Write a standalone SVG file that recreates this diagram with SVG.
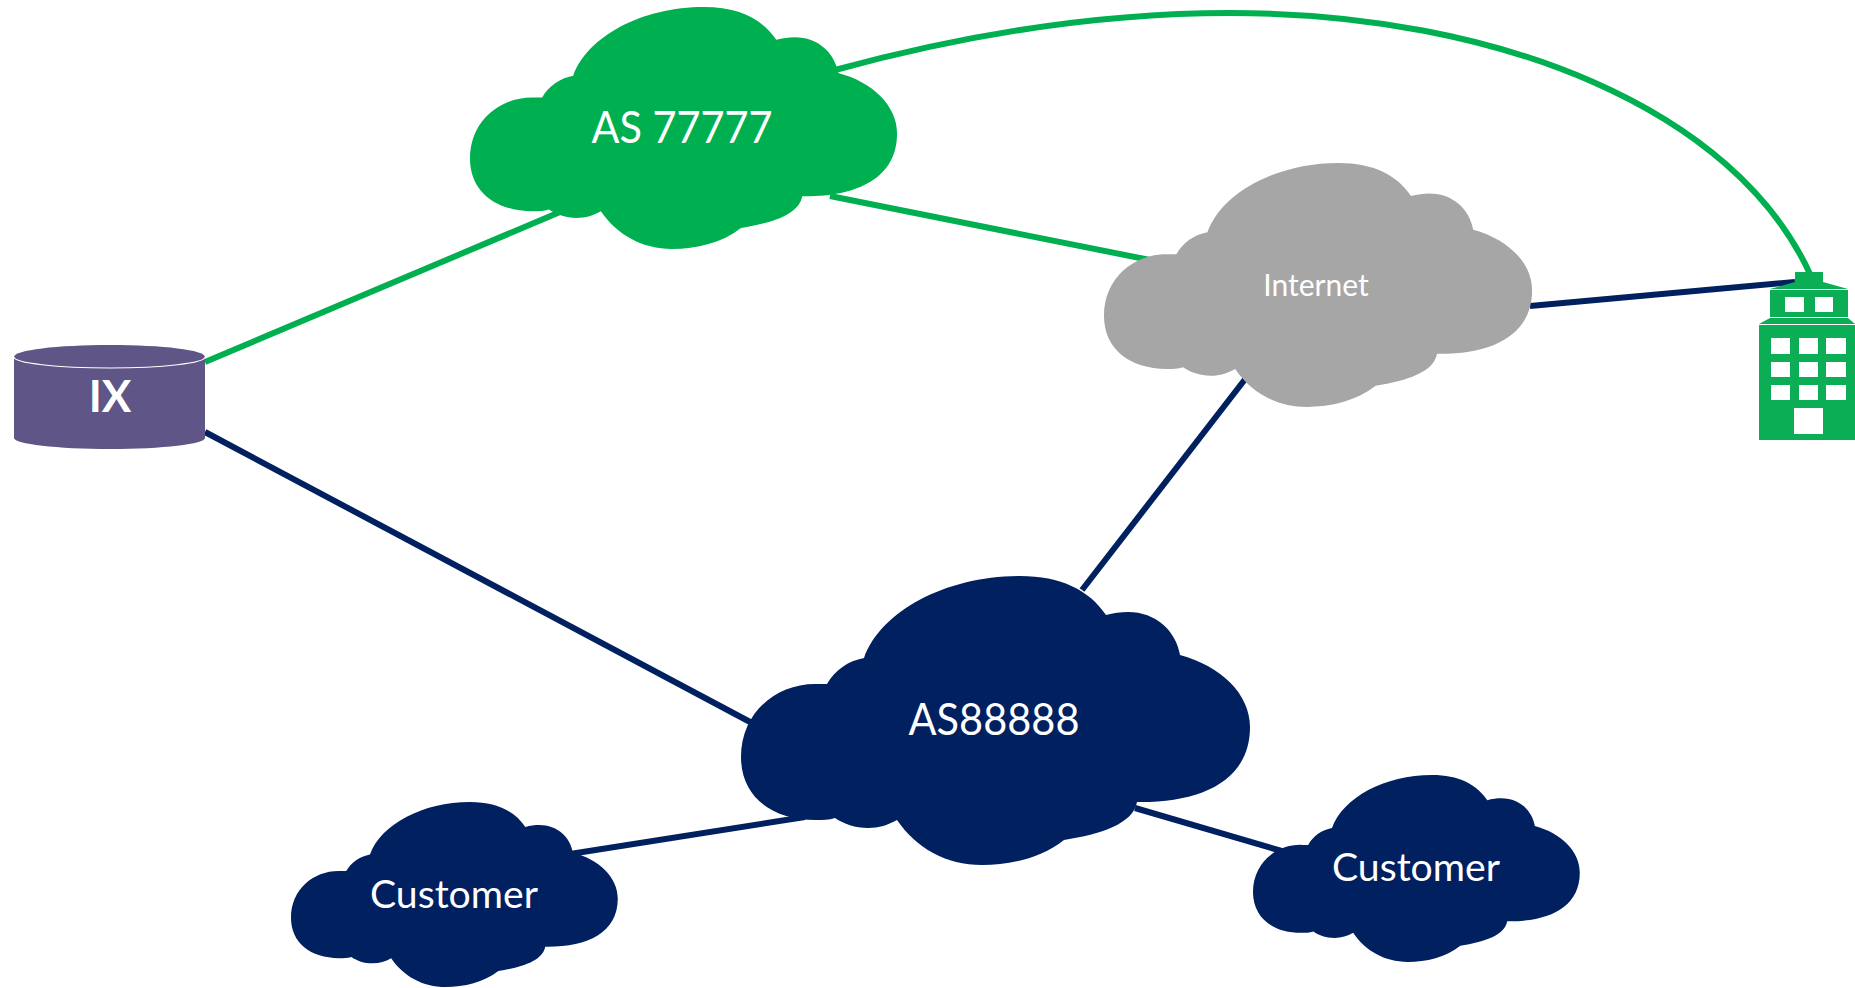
<svg xmlns="http://www.w3.org/2000/svg" width="1855" height="988" viewBox="0 0 1855 988">
<style>
.g{stroke:#00B050}.n{stroke:#002060}
#connectors path{fill:none;stroke-width:6}
text{font-family:Lato,"Liberation Sans",sans-serif;fill:#fff;text-anchor:middle}
.bw{fill:#fff}
.bg{fill:#0BAD55}
</style>
<defs>
<path id="cloud" d="M86,108C94,94 107,85 123,82C140,35 205,0 279,0C320,0 348,14 365,39C372,37 380,36 387,36C415,36 435,55 439,79C480,90 509,118 509,151C509,205 460,227 396,226C392,248 360,258 323,264C300,282 270,289 241,289C205,289 175,272 156,244C147,249 138,252 127,252C114,252 103,248 94,242C88,244 82,244 75,244C30,244 0,220 0,181C0,136 36,107 76,108C80,108 82,108 86,108Z"/>
</defs>
<rect width="1855" height="988" fill="#fff"/>
<g id="connectors">
<path class="g" d="M205,362L560,212"/>
<path class="n" d="M205,432L752,723"/>
<path class="g" d="M830,196L1150,260"/>
<path class="n" d="M1530,306L1795,282"/>
<path class="n" d="M1246,378L1082,590"/>
<path class="n" d="M570,854L805,817"/>
<path class="n" d="M1135,808L1285,852"/>
<path class="g" d="M835,70C1000,25 1130,13 1230,13C1500,13 1735,110 1810,274"/>
</g>
<g id="as77777">
<use href="#cloud" transform="translate(470,7) scale(.839,.837)" fill="#00B050"/>
<text x="682" y="143" font-size="44" textLength="181" lengthAdjust="spacingAndGlyphs">AS 77777</text>
</g>
<g id="internet">
<use href="#cloud" transform="translate(1104,163) scale(.841,.844)" fill="#A6A6A6"/>
<text x="1316" y="296" font-size="30">Internet</text>
</g>
<g id="as88888">
<use href="#cloud" transform="translate(741,576)" fill="#002060"/>
<text x="994" y="735" font-size="44" textLength="171" lengthAdjust="spacingAndGlyphs">AS88888</text>
</g>
<g id="customer-left">
<use href="#cloud" transform="translate(291,802) scale(.642,.64)" fill="#002060"/>
<text x="454" y="908" font-size="38" textLength="168" lengthAdjust="spacingAndGlyphs">Customer</text>
</g>
<g id="customer-right">
<use href="#cloud" transform="translate(1253,775) scale(.642,.647)" fill="#002060"/>
<text x="1416" y="881" font-size="38" textLength="168" lengthAdjust="spacingAndGlyphs">Customer</text>
</g>
<g id="ix">
<path d="M14,357C14,350 57,345 110,345C163,345 205,350 205,357V438C205,444 163,449 110,449C57,449 14,444 14,438Z" fill="#5F5586"/>
<path d="M14,357C14,363 57,368 110,368C163,368 205,363 205,357" fill="none" stroke="#fff" stroke-width="1.2"/>
<text x="110" y="412" font-size="44" font-weight="700">IX</text>
</g>
<g id="building">
<path class="bg" d="M1795,272H1823V282L1848,289H1770L1795,282Z"/>
<rect class="bg" x="1770" y="290" width="78" height="27"/>
<path class="bg" d="M1770,318H1848L1855,324H1759Z"/>
<rect class="bg" x="1759" y="325" width="96" height="115"/>
<g class="bw">
<rect x="1785" y="297" width="19" height="15"/><rect x="1815" y="297" width="18" height="15"/>
<rect x="1771" y="338" width="19" height="16"/><rect x="1799" y="338" width="19" height="16"/><rect x="1826" y="338" width="20" height="16"/>
<rect x="1771" y="362" width="19" height="15"/><rect x="1799" y="362" width="19" height="15"/><rect x="1826" y="362" width="20" height="15"/>
<rect x="1771" y="385" width="19" height="15"/><rect x="1799" y="385" width="19" height="15"/><rect x="1826" y="385" width="20" height="15"/>
<rect x="1794" y="408" width="29" height="26"/>
</g>
</g>
</svg>
